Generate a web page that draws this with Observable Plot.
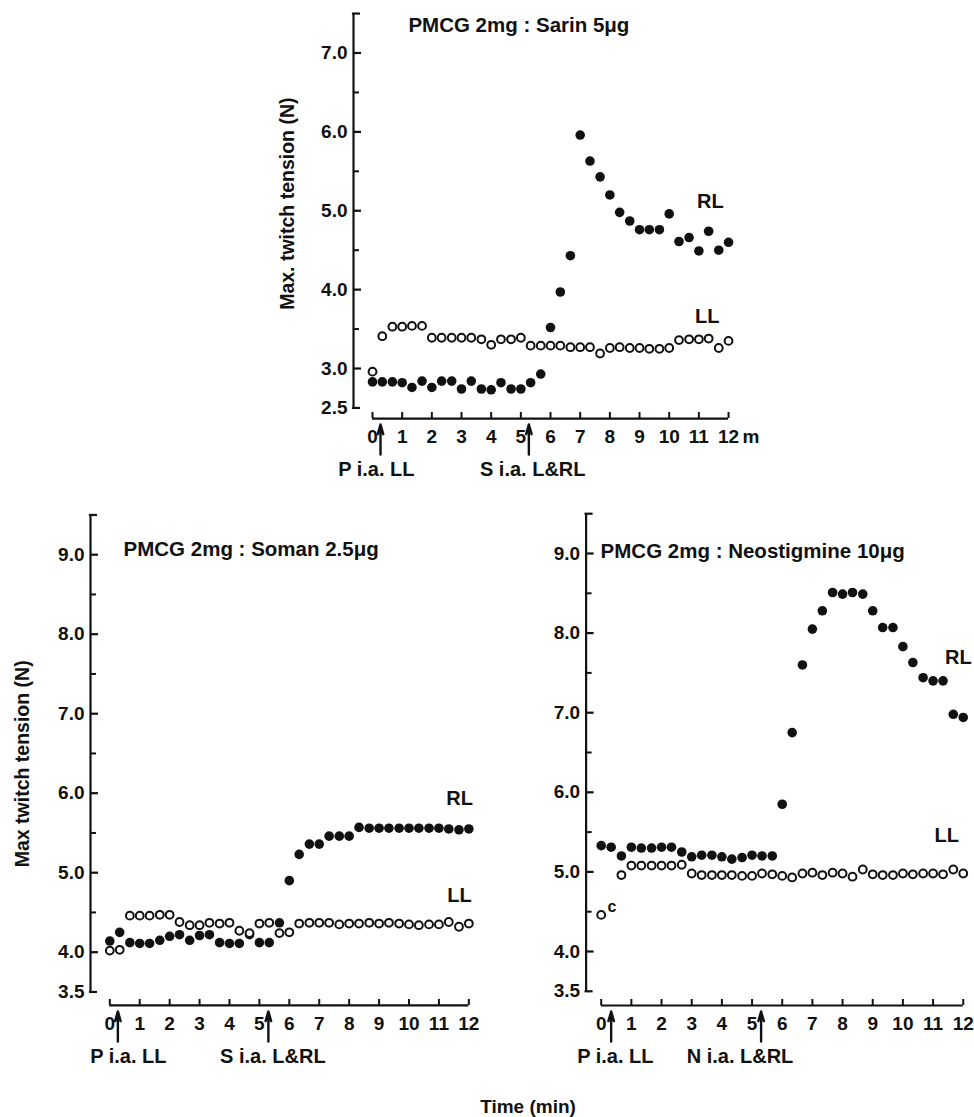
<!DOCTYPE html>
<html>
<head>
<meta charset="utf-8">
<script src="https://cdn.jsdelivr.net/npm/d3@7"></script>
<script src="https://cdn.jsdelivr.net/npm/@observablehq/plot@0.6"></script>
<style>
  body { margin: 0; background: #fff; }
  #chart { position: relative; width: 974px; height: 1117px; font-family: "Liberation Sans", Arial, Helvetica, sans-serif; }
  #chart svg { position: absolute; overflow: visible; }
  #xtitle { position: absolute; left: 428px; width: 200px; top: 1096px; text-align: center; font-size: 19px; font-weight: bold; color: #111; }
</style>
</head>
<body>
<div id="chart"><div id="xtitle">Time (min)</div></div>
<script>
// ---- sampling times (min), one reading every 20 s ----
const times = [0,0.33,0.67,1,1.33,1.67,2,2.33,2.67,3,3.33,3.67,4,4.33,4.67,5,5.33,5.67,6,6.33,6.67,7,7.33,7.67,8,8.33,8.67,9,9.33,9.67,10,10.33,10.67,11,11.33,11.67,12];

// ---- PMCG 2mg : Sarin 5ug ----
const sarinRL = [2.83,2.83,2.83,2.82,2.76,2.84,2.76,2.84,2.84,2.74,2.84,2.74,2.73,2.82,2.74,2.74,2.82,2.93,3.52,3.97,4.43,5.96,5.63,5.43,5.20,4.98,4.87,4.76,4.76,4.76,4.96,4.61,4.66,4.49,4.74,4.50,4.60];
const sarinLL = [2.96,3.41,3.53,3.53,3.54,3.54,3.39,3.39,3.39,3.39,3.39,3.37,3.30,3.37,3.37,3.39,3.29,3.29,3.29,3.29,3.27,3.27,3.27,3.19,3.26,3.27,3.26,3.26,3.25,3.25,3.26,3.36,3.37,3.37,3.38,3.26,3.35];

// ---- PMCG 2mg : Soman 2.5ug ----
const somanRL = [4.14,4.25,4.12,4.11,4.11,4.15,4.20,4.22,4.15,4.21,4.22,4.12,4.11,4.11,4.22,4.12,4.12,4.37,4.90,5.23,5.36,5.36,5.46,5.46,5.46,5.57,5.56,5.56,5.56,5.56,5.56,5.56,5.56,5.56,5.55,5.54,5.55];
const somanLL = [4.02,4.03,4.46,4.46,4.46,4.47,4.47,4.38,4.34,4.34,4.37,4.36,4.37,4.27,4.24,4.36,4.37,4.24,4.25,4.36,4.37,4.37,4.37,4.35,4.36,4.36,4.37,4.36,4.37,4.36,4.35,4.34,4.35,4.35,4.38,4.32,4.36];

// ---- PMCG 2mg : Neostigmine 10ug ----
const neoRL = [5.33,5.31,5.20,5.31,5.30,5.30,5.31,5.31,5.25,5.19,5.21,5.21,5.19,5.16,5.18,5.21,5.20,5.20,5.85,6.75,7.60,8.05,8.28,8.51,8.49,8.51,8.49,8.28,8.07,8.07,7.83,7.63,7.44,7.40,7.40,6.98,6.94];
const neoLL = [4.46,null,4.96,5.08,5.08,5.08,5.08,5.08,5.09,4.98,4.96,4.96,4.96,4.96,4.95,4.95,4.98,4.97,4.95,4.93,4.98,4.99,4.96,4.99,4.98,4.94,5.03,4.97,4.96,4.96,4.98,4.97,4.98,4.98,4.97,5.03,4.98];

// ---- axis ticks ----
const xTicks = [0,1,2,3,4,5,6,7,8,9,10,11,12];
const topYLabels = [7.0,6.0,5.0,4.0,3.0,2.5];
const topYMajor = [7,6,5,4,3];
const topYMinor = [6.5,5.5,4.5,3.5];
const botYLabels = [9.0,8.0,7.0,6.0,5.0,4.0,3.5];
const botYMajor = [9,8,7,6,5,4];
const botYMinor = [8.5,7.5,6.5,5.5,4.5];

// ---- injections (min) and their labels ----
const sarinInj = [0.27,5.27];
const sarinInjLabels = [{t:0.13, text:"P i.a. LL"},{t:5.4, text:"S i.a. L&RL"}];
const somanInj = [0.27,5.3];
const somanInjLabels = [{t:0.62, text:"P i.a. LL"},{t:5.45, text:"S i.a. L&RL"}];
const neoInj = [0.33,5.3];
const neoInjLabels = [{t:0.47, text:"P i.a. LL"},{t:4.6, text:"N i.a. L&RL"}];

const FONT = "Liberation Sans, Arial, Helvetica, sans-serif";

function panel(g, d) {
  const x0 = g.x0 - g.left;
  const xDomain = [-x0 / g.kx, (g.width - x0) / g.kx];
  const yTop = g.yRefV + (g.yRefPx - g.top) / g.ky;
  const yDomain = [yTop - g.height / g.ky, yTop];
  const sx = px => px / g.kx, sy = px => px / g.ky;
  const [yLo, yHi] = d.yRange;
  const ax = d.axisT;
  const xLine = yLo - sy(g.xGap);
  const txt = {fontFamily: FONT, fontWeight: "bold", fill: "#111"};
  const pts = d.times.map((t, i) => ({t, rl: d.rl[i], ll: d.ll[i]}));
  const marks = [
    // y axis
    Plot.ruleX([ax], {y1: yLo, y2: yHi, stroke: "#111", strokeWidth: 2.2}),
    Plot.ruleY(d.yMajor, {x1: ax, x2: ax + sx(8), stroke: "#111", strokeWidth: 2.2}),
    Plot.ruleY(d.yMinor, {x1: ax, x2: ax + sx(6), stroke: "#111", strokeWidth: 2}),
    Plot.ruleY([yLo, yHi], {x1: ax - sx(1.1), x2: ax + sx(7), stroke: "#111", strokeWidth: 2.2}),
    Plot.text(d.yLabels, {x: ax, y: d => d, text: d => d.toFixed(1), textAnchor: "end", dx: -6, fontSize: 19, ...txt}),
    // x axis (detached)
    Plot.ruleY([xLine], {x1: 0, x2: 12, stroke: "#111", strokeWidth: 2.2}),
    Plot.ruleX(d.xTicks, {y1: xLine, y2: xLine + sy(6), stroke: "#111", strokeWidth: 2}),
    Plot.text(d.xTicks, {x: d => d, y: xLine, dy: 18, text: d => String(d), fontSize: 19, ...txt}),
    // injection arrows
    Plot.arrow(d.inj, {x1: d => d, x2: d => d, y1: xLine - sy(36), y2: xLine - sy(6), stroke: "#111", strokeWidth: 2.4, headLength: 11, headAngle: 32}),
    Plot.text(d.injLabels, {x: "t", y: xLine, dy: 51, text: "text", fontSize: 20, ...txt}),
    // data
    Plot.dot(pts, {x: "t", y: "rl", r: 4.8, fill: "#111", stroke: null}),
    Plot.dot(pts, {x: "t", y: "ll", r: 3.9, fill: "white", stroke: "#111", strokeWidth: 2}),
    // labels
    Plot.text(d.series, {x: "t", y: "v", text: "text", fontSize: 20, ...txt}),
    Plot.text([d.title], {x: "t", y: "v", text: "text", textAnchor: "start", fontSize: 20.5, ...txt}),
  ];
  if (d.ytitle) marks.push(Plot.text([d.ytitle], {x: "t", y: "v", text: "text", rotate: -90, fontSize: 19.5, ...txt}));
  if (d.extra) marks.push(Plot.text(d.extra, {x: "t", y: "v", text: "text", fontSize: d.extraSize || 16, ...txt}));
  if (d.unit) marks.push(Plot.text([d.unit], {x: 12, y: xLine, dy: 18, dx: 14, text: d => d, textAnchor: "start", fontSize: 19, ...txt}));
  const svg = Plot.plot({
    width: g.width, height: g.height, margin: 0,
    x: {domain: xDomain, axis: null},
    y: {domain: yDomain, axis: null},
    style: {background: "transparent", overflow: "visible", fontFamily: FONT},
    marks
  });
  svg.style.left = g.left + "px";
  svg.style.top = g.top + "px";
  document.getElementById("chart").appendChild(svg);
}

panel(
  {left: 250, top: 0, width: 520, height: 490, x0: 372, kx: 29.67, yRefV: 3, yRefPx: 368, ky: 78.875, xGap: 10.6},
  {times, rl: sarinRL, ll: sarinLL, yRange: [2.5, 7.5], axisT: -0.64,
   yMajor: topYMajor, yMinor: topYMinor, yLabels: topYLabels, xTicks,
   inj: sarinInj, injLabels: sarinInjLabels, unit: "m",
   series: [{t: 11.39, v: 5.11, text: "RL"}, {t: 11.28, v: 3.66, text: "LL"}],
   title: {t: 1.21, v: 7.35, text: "PMCG 2mg : Sarin 5μg"},
   ytitle: {t: -2.85, v: 5.09, text: "Max. twitch tension (N)"}}
);

panel(
  {left: 0, top: 495, width: 490, height: 580, x0: 109.3, kx: 29.92, yRefV: 4, yRefPx: 951.7, ky: 79.5, xGap: 13.5},
  {times, rl: somanRL, ll: somanLL, yRange: [3.5, 9.5], axisT: -0.645,
   yMajor: botYMajor, yMinor: botYMinor, yLabels: botYLabels, xTicks,
   inj: somanInj, injLabels: somanInjLabels,
   series: [{t: 11.69, v: 5.93, text: "RL"}, {t: 11.69, v: 4.71, text: "LL"}],
   title: {t: 0.46, v: 9.06, text: "PMCG 2mg : Soman 2.5μg"},
   ytitle: {t: -2.92, v: 6.37, text: "Max twitch tension (N)"}}
);

panel(
  {left: 490, top: 495, width: 484, height: 580, x0: 600.7, kx: 30.17, yRefV: 4, yRefPx: 951, ky: 79.6, xGap: 14.2},
  {times, rl: neoRL, ll: neoLL, yRange: [3.5, 9.5], axisT: -0.5,
   yMajor: botYMajor, yMinor: botYMinor, yLabels: botYLabels, xTicks,
   inj: neoInj, injLabels: neoInjLabels,
   series: [{t: 11.84, v: 7.69, text: "RL"}, {t: 11.45, v: 5.46, text: "LL"}],
   title: {t: -0.02, v: 9.03, text: "PMCG 2mg : Neostigmine 10μg"},
   extra: [{t: 0.36, v: 4.56, text: "c"}]}
);
</script>
</body>
</html>
